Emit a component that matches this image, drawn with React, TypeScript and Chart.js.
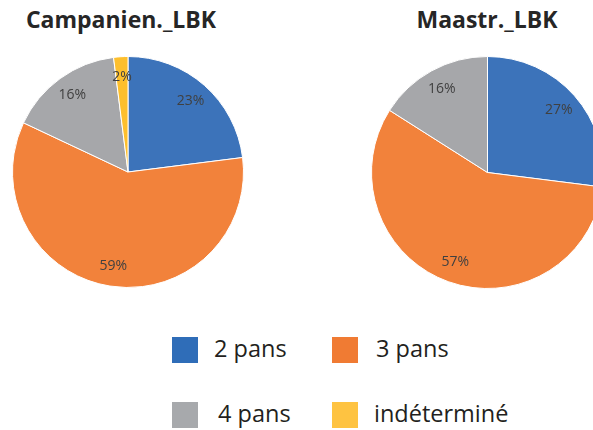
import React, { useEffect, useRef } from "react";
import { Chart, registerables } from "chart.js";

Chart.register(...registerables);

const categories = ["2 pans", "3 pans", "4 pans", "indéterminé"];
const campanienValues = [23, 59, 16, 2];
const maastrValues = [27, 57, 16, 0];
const chartTitles = ["Campanien._LBK", "Maastr._LBK"];
const sliceColors = ["#3C73BA", "#F2823B", "#A6A7AA", "#FDBF2D"];
const legendColors = ["#2F6DB8", "#F07B33", "#A7A9AC", "#FEC341"];

const pctLabels = {
  id: "pctLabels",
  afterDatasetsDraw(chart: any) {
    const ctx = chart.ctx;
    const meta = chart.getDatasetMeta(0);
    const data = chart.data.datasets[0].data as number[];
    ctx.save();
    ctx.font = "14px 'Open Sans'";
    ctx.fillStyle = "#404040";
    ctx.textAlign = "center";
    ctx.textBaseline = "middle";
    meta.data.forEach((arc: any, i: number) => {
      const v = data[i];
      if (!v) return;
      const p = arc.getProps(["x", "y", "startAngle", "endAngle", "outerRadius"], true);
      const mid = (p.startAngle + p.endAngle) / 2;
      const r = p.outerRadius * 0.82;
      ctx.fillText(v + "%", p.x + Math.cos(mid) * r, p.y + Math.sin(mid) * r);
    });
    ctx.restore();
  },
};

function PieCanvas({ values, style, size }: { values: number[]; style: React.CSSProperties; size: number }) {
  const ref = useRef<HTMLCanvasElement | null>(null);
  useEffect(() => {
    if (!ref.current) return;
    const chart = new Chart(ref.current, {
      type: "pie",
      data: {
        labels: categories,
        datasets: [
          {
            data: values,
            backgroundColor: sliceColors,
            borderColor: "#ffffff",
            borderWidth: 1,
          },
        ],
      },
      options: {
        responsive: false,
        animation: false,
        layout: { padding: 0 },
        plugins: {
          legend: { display: false },
          tooltip: { enabled: false },
          title: { display: false },
        },
      },
      plugins: [pctLabels],
    });
    return () => chart.destroy();
  }, []);
  return <canvas ref={ref} width={size} height={size} style={{ position: "absolute", ...style }} />;
}

const titleStyle: React.CSSProperties = {
  position: "absolute",
  top: 4,
  fontFamily: "'Open Sans', sans-serif",
  fontWeight: 700,
  fontSize: 23,
  color: "#262626",
  whiteSpace: "nowrap",
  transform: "translateX(-50%)",
  lineHeight: "30px",
};

export default function App() {
  const legendPos = [
    { x: 172, y: 337 },
    { x: 332, y: 337 },
    { x: 172, y: 402 },
    { x: 332, y: 402 },
  ];
  const textOffset = [42, 44, 46, 42];
  return (
    <div
      style={{
        position: "fixed",
        left: 0,
        top: 0,
        width: 593,
        height: 430,
        overflow: "hidden",
        background: "#ffffff",
      }}
    >
      <div style={{ ...titleStyle, left: 121 }}>{chartTitles[0]}</div>
      <div style={{ ...titleStyle, left: 487 }}>{chartTitles[1]}</div>
      <PieCanvas values={campanienValues} size={232} style={{ left: 12, top: 56 }} />
      <PieCanvas values={maastrValues} size={233} style={{ left: 371, top: 56 }} />
      {categories.map((c, i) => (
        <React.Fragment key={c}>
          <div
            style={{
              position: "absolute",
              left: legendPos[i].x,
              top: legendPos[i].y,
              width: 26,
              height: 26,
              background: legendColors[i],
            }}
          />
          <div
            style={{
              position: "absolute",
              left: legendPos[i].x + textOffset[i],
              top: legendPos[i].y - 5,
              fontFamily: "'Open Sans', sans-serif",
              fontSize: 23.5,
              lineHeight: "33px",
              color: "#231F20",
              whiteSpace: "nowrap",
            }}
          >
            {c}
          </div>
        </React.Fragment>
      ))}
    </div>
  );
}
